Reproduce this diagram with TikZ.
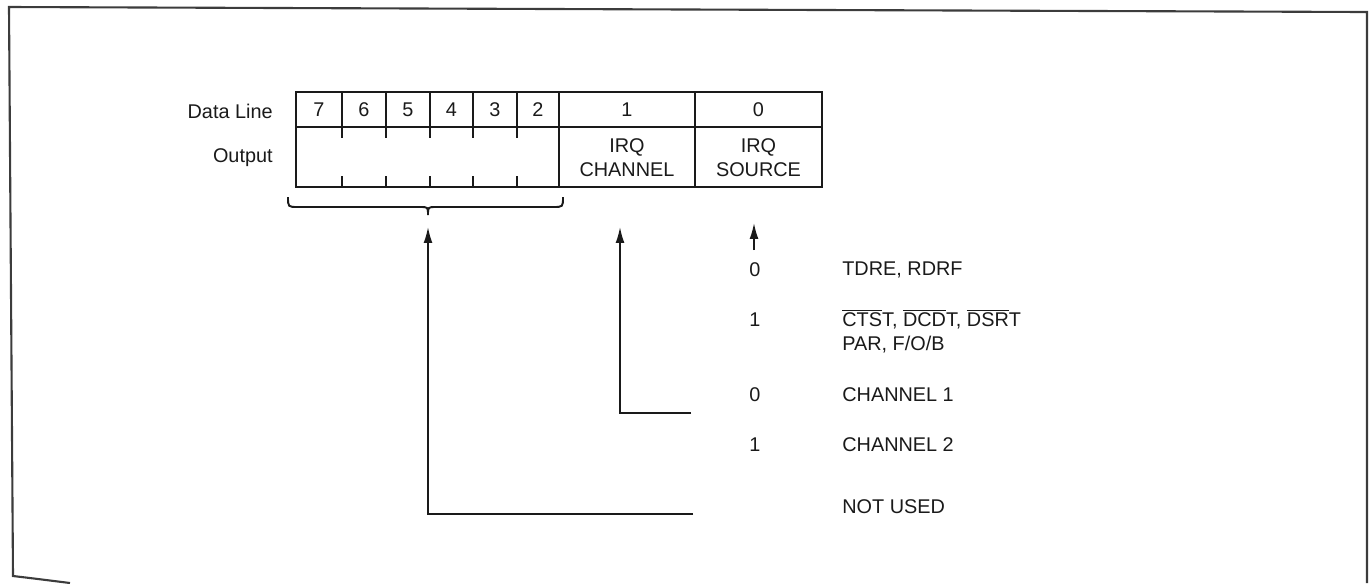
\documentclass[tikz,border=0pt]{standalone}
\usepackage{fontspec}
\setmainfont{Liberation Sans}
\usetikzlibrary{arrows.meta}
\definecolor{ink}{HTML}{1A1A1A}
\newcommand\ovl[1]{$\overline{\hbox{#1}}$}
\begin{document}
\begin{tikzpicture}[x=0.02cm,y=-0.02cm,
  every node/.style={text=ink,font=\fontsize{11.3}{13.8}\selectfont,inner sep=0pt},
  tbl/.style={draw=ink,line width=0.9pt},
  conn/.style={draw=ink,line width=0.9pt},
  arr/.style={conn,-{Latex[length=9pt,width=5pt]}},
  frame/.style={draw=ink!85,line width=1.2pt}]
\useasboundingbox (0,0) rectangle (1369,583);
% page frame
\draw[frame] (70,583) .. controls (30,578) .. (13,576) -- (9,7) -- (1367,12) -- (1367,583);
% table
\draw[tbl] (296,92) rectangle (822,187);
\draw[tbl] (296,127) -- (822,127);
\draw[tbl] (559,92) -- (559,187);
\draw[tbl] (695,92) -- (695,187);
\foreach \x in {342,386,430,473,517}{
  \draw[tbl] (\x,92) -- (\x,138);
  \draw[tbl] (\x,176) -- (\x,187);
}
% row labels
\node[anchor=east] (dl) at (273,111) {Data Line};
\node[anchor=east] (out) at (273,158) {Output};
% cell texts
\node (b7) at (319,110) {7};
\node (b6) at (364,110) {6};
\node (b5) at (408,110) {5};
\node (b4) at (451.5,110) {4};
\node (b3) at (495,110) {3};
\node (b2) at (538,110) {2};
\node (b1) at (627,110) {1};
\node (b0) at (758.5,110) {0};
\node[align=center] (irqch) at (627,158) {IRQ\\CHANNEL};
\node[align=center] (irqsrc) at (758.5,158) {IRQ\\SOURCE};
% brace under bits 7-2
\draw[conn,line width=1.1pt] (288,197) .. controls (288,207) .. (298,207) -- (420,207)
  .. controls (428,207) .. (428,215) .. controls (428,207) .. (436,207) -- (553,207)
  .. controls (563,207) .. (563,197);
\coordinate (bracetip) at (428,227);
\coordinate (chtip) at (620,227);
\coordinate (srctip) at (754,223);
\coordinate (srcbot) at (754,250);
\coordinate (ch1end) at (691,413);
\coordinate (nuend) at (693,514);
% value column and descriptions
\node (v0a) at (755,270) {0};
\node[anchor=west] (tdre) at (842,270) {TDRE, RDRF};
\node (v1a) at (755,320) {1};
\node[anchor=west,align=left] (ctst) at (842,331) {\ovl{CTS}T, \ovl{DCD}T, \ovl{DSR}T\\PAR, F/O/B};
\node (v0b) at (755,395) {0};
\node[anchor=west] (ch1) at (842,395) {CHANNEL 1};
\node (v1b) at (755,445) {1};
\node[anchor=west] (ch2) at (842,445) {CHANNEL 2};
\node[anchor=west] (nu) at (842,507) {NOT USED};
% connectors
\draw[arr] (srcbot) -- (srctip);
\draw[arr] (ch1end) -| (chtip);
\draw[arr] (nuend) -| (bracetip);
\end{tikzpicture}
\end{document}
